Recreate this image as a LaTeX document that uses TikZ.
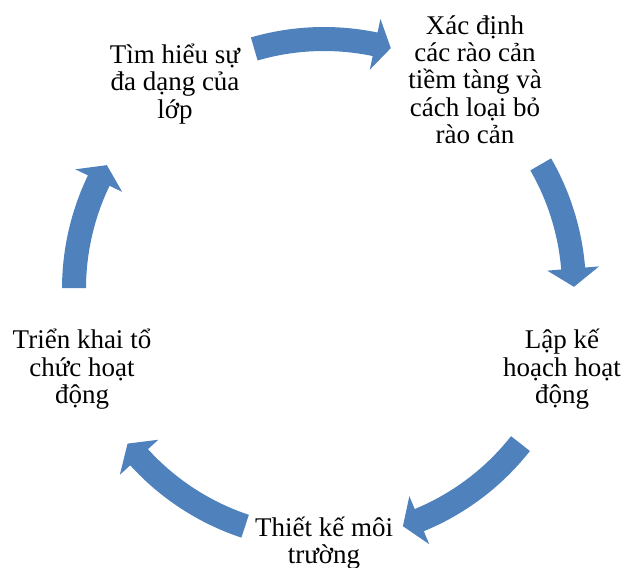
\documentclass[tikz,border=0pt]{standalone}
\usepackage{fontspec}
\setmainfont{Liberation Serif}
\definecolor{arrowblue}{RGB}{79,129,189}
\tikzset{
  item/.style={align=center, anchor=base, inner sep=0pt, text=black,
    font=\fontsize{27}{27.3}\selectfont},
  cyclearrow/.style={fill=arrowblue, draw=none}
}
% #1 tail angle, #2 tip angle, #3 angle of the head base
\newcommand\cycarrow[3]{%
  \path[cyclearrow] (#1:262pt) arc[start angle=#1, end angle=#3, radius=262pt]
    -- (#3:276pt) -- (#2:250pt) -- (#3:224pt) -- (#3:238pt)
    arc[start angle=#3, end angle=#1, radius=238pt] -- cycle;}
\begin{document}
\begin{tikzpicture}[x=1pt,y=1pt]
\useasboundingbox (0,-567) rectangle (628,0);
% base anchor = baseline of the last line
\node[item] (a) at (175,-118) {Tìm hiểu sự\\đa dạng của\\lớp};
\node[item] (b) at (475,-143.5) {Xác định\\các rào cản\\tiềm tàng và\\cách loại bỏ\\rào cản};
\node[item] (c) at (562,-403.5) {Lập kế\\hoạch hoạt\\động};
\node[item] (d) at (324,-563.5) {Thiết kế môi\\trường};
\node[item] (e) at (82,-403.5) {Triển khai tổ\\chức hoạt\\động};
\begin{scope}[shift={(324,-289)}]
  \cycarrow{106.2}{74.5}{78.2}
  \cycarrow{29.9}{0.5}{4.7}
  \cycarrow{-38.2}{-71.6}{-67.6}
  \cycarrow{-108.4}{-141.8}{-137.7}
  \cycarrow{179.8}{150.3}{154.3}
\end{scope}
\end{tikzpicture}
\end{document}
